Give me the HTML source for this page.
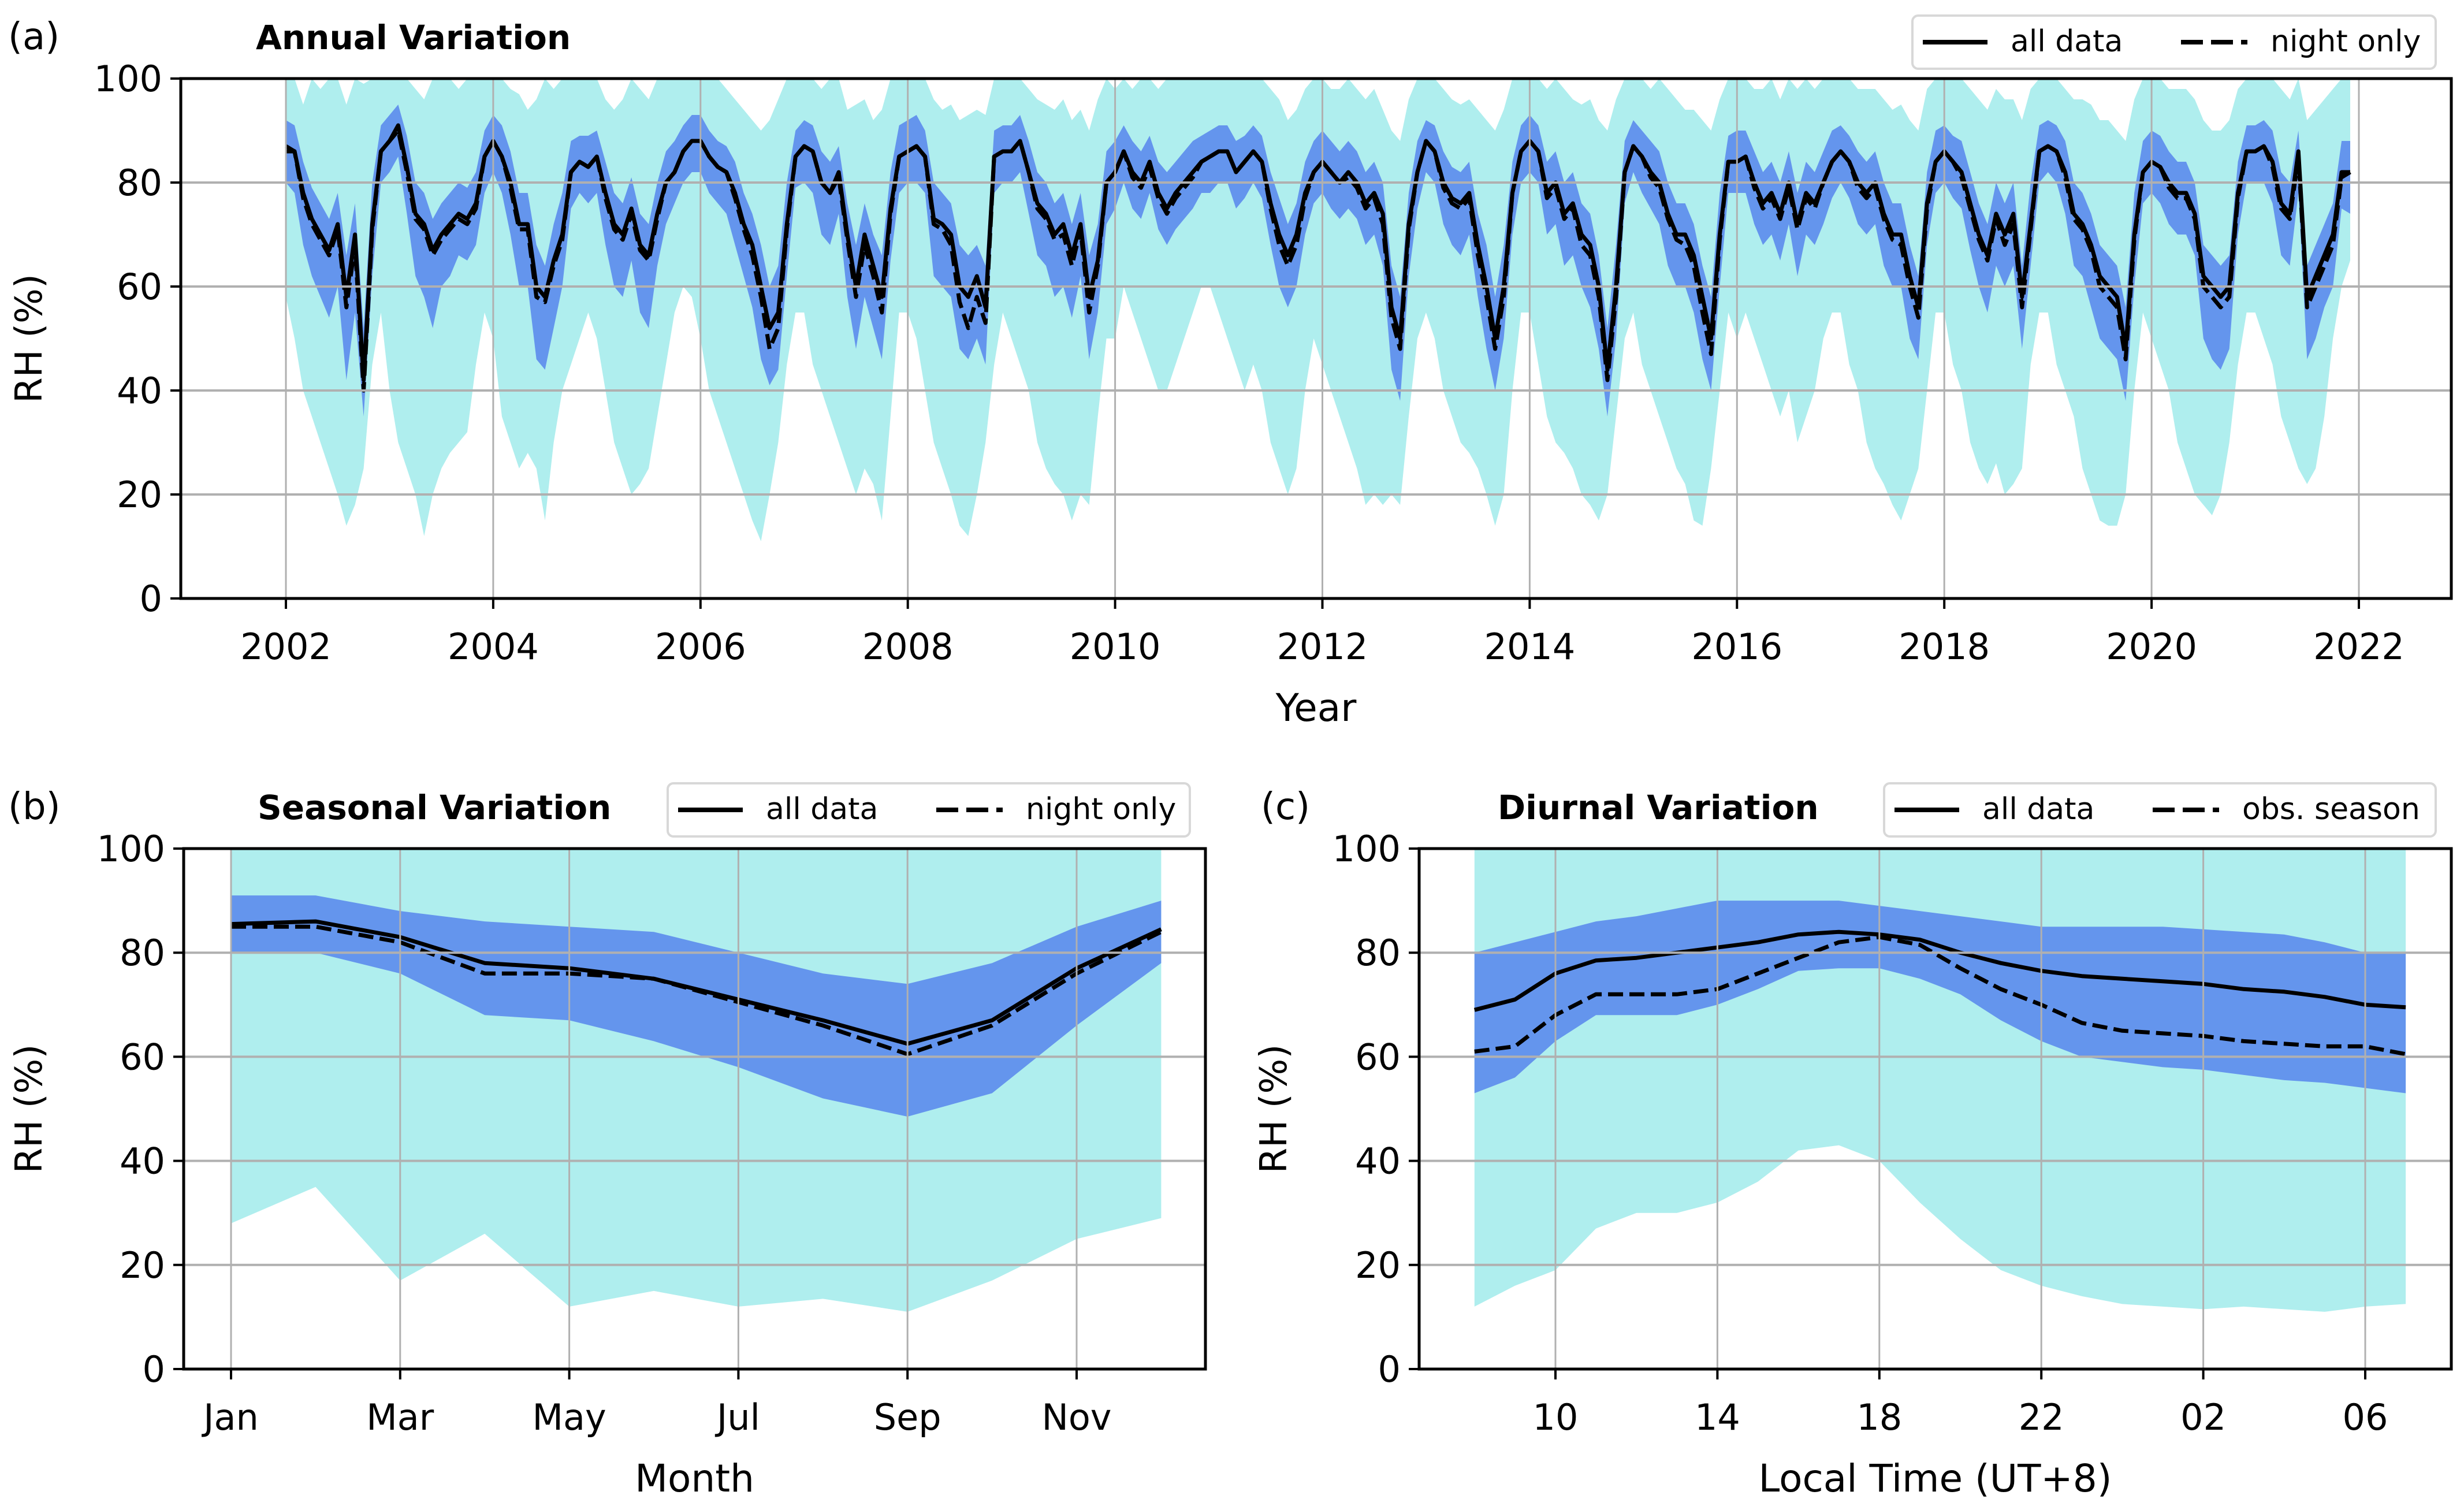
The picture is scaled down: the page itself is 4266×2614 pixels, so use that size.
<!DOCTYPE html>
<html><head><meta charset="utf-8"><style>
html,body{margin:0;padding:0;background:#fff;}
svg{display:block;font-family:"DejaVu Sans","Liberation Sans",sans-serif;}
</style></head><body>
<svg id="fig" width="4266" height="2614" viewBox="0 0 4266 2614" xmlns="http://www.w3.org/2000/svg"></svg>
<script>
// ===== Panel (a) data: monthly, Jan..Dec per year 2002..2021 =====
const years = [2002,2003,2004,2005,2006,2007,2008,2009,2010,2011,2012,2013,2014,2015,2016,2017,2018,2019,2020,2021];
const annualMean = [
87,86,78,73,70,67,72,58,70,42,72,86,
88,91,83,74,72,67,70,72,74,73,76,85,
88,85,80,72,72,60,58,65,70,82,84,83,
85,78,72,70,75,68,66,74,80,82,86,88,
88,85,83,82,78,72,68,60,52,55,72,85,
87,86,80,78,82,70,60,70,64,58,75,85,
86,87,85,73,72,70,60,58,62,56,85,86,
86,88,82,76,74,70,72,66,72,58,65,80,
82,86,82,80,84,78,75,78,80,82,84,85,
86,86,82,84,86,84,76,70,66,70,78,82,
84,82,80,82,80,76,78,74,56,50,72,82,
88,86,80,77,76,78,68,60,50,60,78,86,
88,86,78,80,74,76,70,68,60,44,60,82,
87,85,82,80,74,70,70,66,58,50,70,84,
84,85,80,76,78,74,80,72,78,76,80,84,
86,84,80,78,80,74,70,70,62,56,76,84,
86,84,82,76,70,66,74,70,74,58,72,86,
87,86,82,74,72,68,62,60,58,48,70,82,
84,83,80,78,78,74,62,60,58,60,78,86,
86,87,84,76,74,86,58,62,66,70,82,82];
const annualNight = [
86,86,77,72,69,66,71,56,68,40,71,86,
88,90,82,73,71,66,69,71,73,72,75,85,
88,85,79,71,71,58,57,64,69,82,84,83,
85,77,71,69,74,67,65,73,80,82,86,88,
88,85,83,82,77,71,66,58,48,52,71,85,
87,86,80,78,81,69,58,68,62,55,74,85,
86,87,85,72,71,68,57,52,58,53,85,86,
86,88,82,75,73,69,70,64,71,55,64,80,
82,86,81,79,83,77,74,77,79,81,84,85,
86,86,82,84,86,84,75,68,64,68,77,82,
84,82,80,81,79,75,77,72,54,48,71,82,
88,86,79,76,75,77,66,58,48,58,78,86,
88,86,77,79,73,75,68,66,58,42,58,82,
87,85,81,79,73,69,68,64,55,47,69,84,
84,85,79,75,77,73,79,71,77,75,80,84,
86,84,79,77,79,73,69,68,60,54,75,84,
86,84,81,75,69,65,73,68,72,56,71,86,
87,86,81,73,71,67,60,58,56,46,69,82,
84,83,79,77,77,73,60,58,56,58,77,86,
86,87,83,75,73,85,56,60,64,68,81,82];
const annualInnerHi = [
92,91,84,79,76,73,78,66,76,52,80,91,
93,95,89,80,78,73,76,78,80,79,82,90,
93,91,86,78,78,68,64,72,78,88,89,89,
90,84,78,76,81,74,72,80,86,88,91,93,
93,90,88,87,84,78,74,68,60,64,80,90,
92,91,86,84,87,76,68,76,70,66,82,91,
92,93,90,80,78,76,68,66,68,64,90,91,
91,93,88,82,80,76,78,72,78,66,72,86,
88,91,88,86,89,84,82,84,86,88,89,90,
91,91,88,89,91,89,82,77,72,76,84,88,
90,88,86,88,86,82,84,80,64,58,78,88,
92,91,86,83,82,84,74,68,58,68,84,91,
93,91,84,86,80,82,76,74,66,52,68,88,
92,90,88,86,80,76,76,72,64,58,78,89,
90,90,86,82,84,80,86,78,84,82,86,90,
91,89,86,84,86,80,76,76,68,62,82,90,
91,89,88,82,76,72,80,76,80,64,80,91,
92,91,88,80,78,74,68,66,64,56,78,88,
90,89,86,84,84,80,68,66,64,66,84,91,
91,92,90,82,80,90,64,68,72,76,88,88];
const annualInnerLo = [
80,78,68,62,58,54,60,42,55,35,62,80,
82,85,74,62,58,52,60,62,66,65,68,78,
82,78,70,60,60,46,44,52,60,75,78,76,
78,68,60,58,65,55,52,64,72,76,80,82,
82,78,76,74,68,62,56,46,41,44,62,79,
80,78,70,68,74,58,48,58,52,46,65,78,
80,80,78,62,60,58,48,46,50,45,78,80,
80,82,74,66,64,58,60,54,62,46,55,72,
75,80,75,73,78,71,68,71,73,75,78,78,
80,80,75,77,80,77,68,60,56,60,70,76,
78,75,73,75,73,68,70,64,44,38,62,75,
82,80,72,68,66,70,58,48,40,50,70,80,
82,80,70,72,64,66,60,56,48,35,50,76,
82,78,75,72,64,60,60,55,46,40,60,78,
78,78,72,68,70,65,72,62,70,68,72,77,
80,77,72,70,72,64,60,60,50,46,68,78,
80,77,75,67,60,55,64,60,64,48,64,80,
82,80,74,64,62,56,50,48,46,38,60,76,
78,76,72,70,70,66,50,46,44,48,70,80,
80,80,76,66,64,78,46,50,56,60,75,74];
const annualOuterLo = [
58,50,40,35,30,25,20,14,18,25,45,55,
40,30,25,20,12,20,25,28,30,32,45,55,
50,35,30,25,28,25,15,30,40,45,50,55,
50,40,30,25,20,22,25,35,45,55,60,58,
50,40,35,30,25,20,15,11,20,30,45,55,
55,45,40,35,30,25,20,25,22,15,35,55,
55,50,40,30,25,20,14,12,20,30,45,55,
50,45,40,30,25,22,20,15,20,18,35,50,
50,60,55,50,45,40,40,45,50,55,60,60,
55,50,45,40,45,40,30,25,20,25,40,50,
45,40,35,30,25,18,20,18,20,18,35,50,
55,50,40,35,30,28,25,20,14,20,40,55,
55,45,35,30,28,25,20,18,15,20,35,50,
55,45,40,35,30,25,22,15,14,25,40,55,
50,55,50,45,40,35,40,30,35,40,50,55,
55,45,40,30,25,22,18,15,20,25,40,55,
55,45,40,30,25,22,26,20,22,25,45,55,
55,45,40,35,25,20,15,14,14,20,40,55,
50,45,40,30,25,20,18,16,20,30,45,55,
55,50,45,35,30,25,22,25,35,50,60,65];
const annualOuterHi = [
100,100,95,100,98,100,100,95,100,99,100,100,
100,100,100,98,96,100,100,100,98,100,100,100,
100,100,98,97,94,96,100,98,100,100,100,100,
100,96,94,96,100,98,96,100,100,100,100,100,
100,100,100,98,96,94,92,90,92,96,100,100,
100,100,98,100,100,94,95,96,92,94,100,100,
100,100,100,96,94,95,92,93,94,93,100,100,
100,100,98,96,95,94,96,92,94,90,96,100,
98,100,98,100,100,98,100,100,100,100,100,100,
100,100,100,100,100,100,98,96,92,94,98,100,
100,98,98,100,98,96,98,94,90,88,96,100,
100,100,98,96,95,96,94,92,90,94,100,100,
100,100,98,100,98,96,95,96,92,90,96,100,
100,100,98,100,98,96,94,94,92,90,96,100,
100,100,98,98,100,96,100,98,100,98,100,100,
100,100,98,98,98,96,94,95,92,90,98,100,
100,100,100,98,96,94,98,96,96,92,98,100,
100,100,98,96,96,95,92,92,90,88,96,100,
100,100,98,98,98,96,92,90,90,92,98,100,
100,100,100,98,96,100,92,94,96,98,100,100];
const annualXTicks = [2002,2004,2006,2008,2010,2012,2014,2016,2018,2020,2022];
const yTicks = [0,20,40,60,80,100];

// ===== Panel (b) data: months =====
const monthLabels = ["Jan","Mar","May","Jul","Sep","Nov"];
const seasMean = [85.5,86,83,78,77,75,71,67,62.5,67,77,84.5];
const seasNight = [85,85,82,76,76,75,70.5,66,60.5,66,76,84];
const seasInnerHi = [91,91,88,86,85,84,80,76,74,78,85,90];
const seasInnerLo = [80,80,76,68,67,63,58,52,48.5,53,66,78];
const seasOuterHi = [100,100,100,100,100,100,100,100,100,100,100,100];
const seasOuterLo = [28,35,17,26,12,15,12,13.5,11,17,25,29];

// ===== Panel (c) data: hours 08..07 (next day) =====
const hours = [8,9,10,11,12,13,14,15,16,17,18,19,20,21,22,23,24,25,26,27,28,29,30,31];
const hourTicks = [10,14,18,22,26,30];
const hourTickLabels = ["10","14","18","22","02","06"];
const diurMean = [69,71,76,78.5,79,80,81,82,83.5,84,83.5,82.5,80,78,76.5,75.5,75,74.5,74,73,72.5,71.5,70,69.5];
const diurObs = [61,62,68,72,72,72,73,76,79,82,83,81.5,77,73,70,66.5,65,64.5,64,63,62.5,62,62,60.5];
const diurInnerHi = [80,82,84,86,87,88.5,90,90,90,90,89,88,87,86,85,85,85,85,84.5,84,83.5,82,80,80];
const diurInnerLo = [53,56,63,68,68,68,70,73,76.5,77,77,75,72,67,63,60,59,58,57.5,56.5,55.5,55,54,53];
const diurOuterHi = [100,100,100,100,100,100,100,100,100,100,100,100,100,100,100,100,100,100,100,100,100,100,100,100];
const diurOuterLo = [12,16,19,27,30,30,32,36,42,43,40,32,25,19,16,14,12.5,12,11.5,12,11.5,11,12,12.5];

const NS = "http://www.w3.org/2000/svg";
const svg = document.getElementById("fig");
function mk(tag, attrs, parent){
  const e = document.createElementNS(NS, tag);
  for (const k in attrs) e.setAttribute(k, attrs[k]);
  (parent||svg).appendChild(e);
  return e;
}
function txt(s, attrs, parent){ const e = mk("text", attrs, parent); e.textContent = s; return e; }

function panel(cfg){
  const g = mk("g", {});
  
  
  const sx = v => cfg.px0 + (v - cfg.v0) * (cfg.px1 - cfg.px0) / (cfg.v1 - cfg.v0);
  const sy = v => cfg.bottom - v * (cfg.bottom - cfg.top) / 100;
  const clipId = cfg.name + "-clip";
  const cp = mk("clipPath", {id: clipId}, g);
  mk("rect", {x: cfg.left, y: cfg.top, width: cfg.right - cfg.left, height: cfg.bottom - cfg.top}, cp);
  const plot = mk("g", {"clip-path": "url(#" + clipId + ")"}, g);
  function band(xs, hi, lo, color, name){
    let d = "M" + xs.map((x,i)=> sx(x).toFixed(1) + "," + sy(hi[i]).toFixed(1)).join("L");
    for (let i = xs.length-1; i >= 0; i--) d += "L" + sx(xs[i]).toFixed(1) + "," + sy(lo[i]).toFixed(1);
    const p = mk("path", {d: d + "Z", fill: color, stroke: "none"}, plot);
    
    
  }
  band(cfg.xs, cfg.outerHi, cfg.outerLo, "#afeeee", "outer-range-band");
  band(cfg.xs, cfg.innerHi, cfg.innerLo, "#6495ed", "inner-range-band");
  cfg.xticks.forEach((t,i) => {
    const l = mk("line", {x1: sx(t), x2: sx(t), y1: cfg.top, y2: cfg.bottom, stroke: "#b0b0b0", "stroke-width": 3}, g);
    
    
    const tk = mk("line", {x1: sx(t), x2: sx(t), y1: cfg.bottom, y2: cfg.bottom + 18, stroke: "#000", "stroke-width": 4}, g);
    
    
    const lb = txt(cfg.xlabels[i], {x: sx(t), y: cfg.bottom + 105, "font-size": 62, "text-anchor": "middle"}, g);
    
    
  });
  yTicks.forEach(t => {
    if (t > 0 && t < 100) {
      const l = mk("line", {x1: cfg.left, x2: cfg.right, y1: sy(t), y2: sy(t), stroke: "#b0b0b0", "stroke-width": 4}, g);
      
      
    }
    const tk = mk("line", {x1: cfg.left - 18, x2: cfg.left, y1: sy(t), y2: sy(t), stroke: "#000", "stroke-width": 4}, g);
    
    
    const lb = txt(String(t), {x: cfg.left - 32, y: sy(t) + 22, "font-size": 62, "text-anchor": "end"}, g);
    
    
  });
  function line(ys, dash, name){
    const d = "M" + cfg.xs.map((x,i)=> sx(x).toFixed(1) + "," + sy(ys[i]).toFixed(1)).join("L");
    const p = mk("path", {d: d, fill: "none", stroke: "#000", "stroke-width": 7, "stroke-linejoin": "round", "stroke-dasharray": dash}, plot);
    
    
  }
  line(cfg.dashed, "26,11", cfg.dashName);
  line(cfg.mean, "none", "all-data-line");
  const fr = mk("rect", {x: cfg.left, y: cfg.top, width: cfg.right - cfg.left, height: cfg.bottom - cfg.top, fill: "none", stroke: "#000", "stroke-width": 5}, g);
  
  
  const pl = txt(cfg.letter, {x: cfg.letterX, y: cfg.titleY, "font-size": 64}, g);
  
  
  const ti = txt(cfg.title, {x: cfg.titleX, y: cfg.titleY, "font-size": 58, "font-weight": "bold"}, g);
  
  
  const yl = txt("RH (%)", {x: 0, y: 0, "font-size": 64, "text-anchor": "middle", transform: "translate(" + (cfg.ylabX) + "," + ((cfg.top + cfg.bottom)/2) + ") rotate(-90)"}, g);
  
  
  const xl = txt(cfg.xtitle, {x: (cfg.left + cfg.right)/2, y: cfg.bottom + 212, "font-size": 66, "text-anchor": "middle"}, g);
  
  
  const lg = mk("g", {}, g);
  
  
  const L = cfg.leg;
  mk("rect", {x: L.x, y: L.y, width: L.w, height: 92, rx: 10, fill: "#fff", stroke: "#d8d8d8", "stroke-width": 4}, lg);
  const e1 = mk("line", {x1: L.x + 18, x2: L.x + 130, y1: L.y + 46, y2: L.y + 46, stroke: "#000", "stroke-width": 8}, lg);
  
  
  txt("all data", {x: L.x + 170, y: L.y + 62, "font-size": 52}, lg);
  const e2 = mk("line", {x1: L.x + L.t2 - 155, x2: L.x + L.t2 - 40, y1: L.y + 46, y2: L.y + 46, stroke: "#000", "stroke-width": 8, "stroke-dasharray": "38,14"}, lg);
  
  
  txt(L.label2, {x: L.x + L.t2, y: L.y + 62, "font-size": 52}, lg);
}

const annualX = [];
years.forEach(y => { for (let m = 0; m < 12; m++) annualX.push(y + m/12); });

panel({name: "annual-variation-panel", left: 313, right: 4244, top: 136, bottom: 1036,
  px0: 495, px1: 4084, v0: 2002, v1: 2022, xs: annualX,
  outerHi: annualOuterHi, outerLo: annualOuterLo, innerHi: annualInnerHi, innerLo: annualInnerLo,
  mean: annualMean, dashed: annualNight, dashName: "night-only-line",
  xticks: annualXTicks, xlabels: annualXTicks.map(String),
  letter: "(a)", letterX: 14, title: "Annual Variation", titleX: 443, titleY: 85, ylabX: 72, xtitle: "Year",
  leg: {x: 3311, y: 27, w: 906, t2: 620, label2: "night only"}});

panel({name: "seasonal-variation-panel", left: 318, right: 2087, top: 1469, bottom: 2370,
  px0: 400, px1: 1864, v0: 0, v1: 10, xs: seasMean.map((_,i)=>i),
  outerHi: seasOuterHi, outerLo: seasOuterLo, innerHi: seasInnerHi, innerLo: seasInnerLo,
  mean: seasMean, dashed: seasNight, dashName: "night-only-line",
  xticks: [0,2,4,6,8,10], xlabels: monthLabels,
  letter: "(b)", letterX: 14, title: "Seasonal Variation", titleX: 446, titleY: 1418, ylabX: 72, xtitle: "Month",
  leg: {x: 1156, y: 1356, w: 904, t2: 620, label2: "night only"}});

panel({name: "diurnal-variation-panel", left: 2457, right: 4244, top: 1469, bottom: 2370,
  px0: 2693, px1: 4095, v0: 10, v1: 30, xs: hours,
  outerHi: diurOuterHi, outerLo: diurOuterLo, innerHi: diurInnerHi, innerLo: diurInnerLo,
  mean: diurMean, dashed: diurObs, dashName: "obs-season-line",
  xticks: hourTicks, xlabels: hourTickLabels,
  letter: "(c)", letterX: 2183, title: "Diurnal Variation", titleX: 2593, titleY: 1418, ylabX: 2227, xtitle: "Local Time (UT+8)",
  leg: {x: 3262, y: 1356, w: 955, t2: 620, label2: "obs. season"}});
</script>
</body></html>
